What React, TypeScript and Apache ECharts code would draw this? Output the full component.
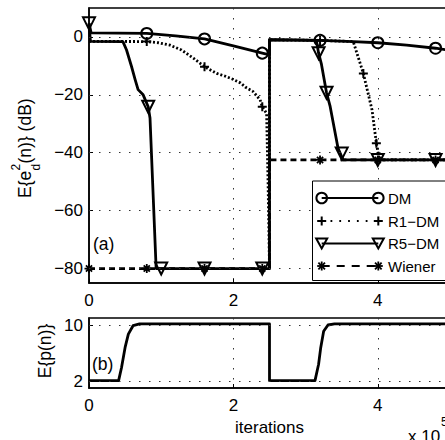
import React, { useEffect, useRef } from "react";
import * as echarts from "echarts";

// x values in units of 1e5 iterations
const dmX = [0, 0.03, 0.4, 0.8, 1.2, 1.6, 2.0, 2.4, 2.5, 2.5, 2.8, 3.2, 3.66, 4.0, 4.4, 4.8, 5.0];
const dmY = [4.7, 1.4, 1.3, 1.2, 0.4, -0.7, -3.1, -5.6, -6.2, -0.9, -1.0, -1.2, -1.6, -2.0, -2.8, -3.9, -4.6];
const dmMarkX = [0.8, 1.6, 2.4, 3.2, 4.0, 4.8];
const dmMarkY = [1.2, -0.7, -5.6, -1.2, -2.0, -3.9];

const r1X = [0, 0.8, 0.96, 1.12, 1.28, 1.45, 1.6, 1.77, 1.88, 2.0, 2.1, 2.17, 2.27, 2.37, 2.4, 2.46, 2.48, 2.5, 2.5, 3.2, 3.66, 3.8, 3.92, 3.98, 4.02, 5.0];
const r1Y = [-1.5, -1.6, -2.0, -2.8, -4.5, -7.4, -10.3, -12.6, -13.5, -14.7, -15.9, -17.4, -18.8, -21.7, -24.1, -26.4, -50, -80, -1.0, -1.2, -1.6, -12.6, -25.2, -36.7, -42.5, -42.5];
const r1MarkX = [0.8, 1.6, 2.4, 3.2, 3.8, 3.98];
const r1MarkY = [-1.6, -10.3, -24.1, -1.2, -12.6, -36.7];

const r5X = [0, 0.02, 0.47, 0.52, 0.59, 0.64, 0.68, 0.75, 0.82, 0.845, 0.93, 2.5, 2.5, 3.15, 3.18, 3.22, 3.29, 3.34, 3.45, 3.52, 5.0];
const r5Y = [4.7, -1.5, -1.6, -4.5, -10.3, -14.8, -18.2, -20.0, -24.1, -28, -80, -80, -1.0, -1.2, -5.6, -9.5, -19.3, -24, -38.5, -42.5, -42.5];
const r5MarkX = [0, 0.82, 1.0, 1.6, 2.4, 3.18, 3.29, 3.5, 4.0, 4.8];
const r5MarkY = [4.7, -24.1, -80, -80, -80, -5.6, -19.3, -40.3, -42.5, -42.5];

const wienerX = [0, 2.5, 2.5, 5.0];
const wienerY = [-80, -80, -42.5, -42.5];
const wienerMarkX = [0, 0.8, 1.6, 2.4, 3.2, 4.0, 4.8];
const wienerMarkY = [-80, -80, -80, -80, -42.5, -42.5, -42.5];

const pX = [0, 0.41, 0.45, 0.5, 0.545, 0.61, 0.7, 2.5, 2.5, 3.13, 3.18, 3.21, 3.25, 3.31, 3.4, 5.0];
const pY = [2.05, 2.05, 3.9, 6.8, 8.7, 9.9, 10.15, 10.15, 2.05, 2.05, 4.4, 6.8, 9.1, 10.0, 10.15, 10.15];

const yTicksA = [-80, -60, -40, -20, 0];
const yTicksB = [2, 10];
const legendNames = ["DM", "R1\u2212DM", "R5\u2212DM", "Wiener"];

const FONT = "'Liberation Sans', Arial, Helvetica, sans-serif";
const PLUS = "path://M0,5L10,5M5,0L5,10";
const STAR = "path://M0,5L10,5M5,0L5,10M1.6,1.6L8.4,8.4M1.6,8.4L8.4,1.6";

const zip = (xs: number[], ys: number[]) => xs.map((x, i) => [x, ys[i]]);
const fmt = (v: number) => (v < 0 ? "\u2212" + Math.abs(v) : String(v));

const gridLine = { type: [1.5, 8.5] as any, color: "#333", width: 1 };

function lineSeries(name: string, xs: number[], ys: number[], type: any, idx: number, extra: any = {}) {
  return {
    type: "line",
    name,
    xAxisIndex: idx,
    yAxisIndex: idx,
    data: zip(xs, ys),
    showSymbol: false,
    symbol: "none",
    silent: true,
    lineStyle: { color: "#000", width: 2.8, type, cap: "butt", join: "round" },
    z: 2,
    ...extra,
  };
}

function markSeries(xs: number[], ys: number[], symbol: string, size: number, rotate = 0, bw = 2) {
  return {
    type: "scatter",
    xAxisIndex: 0,
    yAxisIndex: 0,
    data: zip(xs, ys),
    symbol,
    symbolSize: size,
    symbolRotate: rotate,
    silent: true,
    itemStyle: { color: "rgba(0,0,0,0)", borderColor: "#000", borderWidth: bw, opacity: 1 },
    z: 3,
  };
}

function hMarkLines(vals: number[]) {
  return {
    silent: true,
    symbol: ["none", "none"],
    label: { show: false },
    lineStyle: gridLine,
    data: vals.map((v) => ({ yAxis: v })),
    animation: false,
  };
}

function legendGraphics() {
  const rowsY = [198, 221, 243.5, 266];
  const mL = 321.7;
  const mR = 378.3;
  const els: any[] = [
    {
      type: "rect",
      shape: { x: 312.5, y: 181, width: 140, height: 99.5 },
      style: { fill: "#fff", stroke: "#000", lineWidth: 1 },
      z: 100,
    },
  ];
  const dashes: any[] = [null, [1.8, 7], null, [8, 7]];
  rowsY.forEach((ry, i) => {
    els.push({
      type: "line",
      shape: { x1: mL, y1: ry, x2: mR, y2: ry },
      style: { stroke: "#000", lineWidth: 1.8, lineDash: dashes[i] },
      z: 101,
    });
    [mL, mR].forEach((cx) => {
      if (i === 0) {
        els.push({ type: "circle", shape: { cx, cy: ry, r: 5.3 }, style: { fill: "none", stroke: "#000", lineWidth: 2 }, z: 102 });
      } else if (i === 1) {
        els.push({ type: "line", shape: { x1: cx - 4.5, y1: ry, x2: cx + 4.5, y2: ry }, style: { stroke: "#000", lineWidth: 2 }, z: 102 });
        els.push({ type: "line", shape: { x1: cx, y1: ry - 4.5, x2: cx, y2: ry + 4.5 }, style: { stroke: "#000", lineWidth: 2 }, z: 102 });
      } else if (i === 2) {
        els.push({
          type: "polygon",
          shape: { points: [[cx - 5.5, ry - 5], [cx + 5.5, ry - 5], [cx, ry + 5]] },
          style: { fill: "none", stroke: "#000", lineWidth: 2 },
          z: 102,
        });
      } else {
        const r = 4.5;
        const d = 3.3;
        [[-r, 0, r, 0], [0, -r, 0, r], [-d, -d, d, d], [-d, d, d, -d]].forEach((s) =>
          els.push({ type: "line", shape: { x1: cx + s[0], y1: ry + s[1], x2: cx + s[2], y2: ry + s[3] }, style: { stroke: "#000", lineWidth: 1.8 }, z: 102 })
        );
      }
    });
    els.push({
      type: "text",
      x: 388,
      y: ry,
      style: { text: legendNames[i], fontSize: 15, fontFamily: FONT, fill: "#000", align: "left", verticalAlign: "middle", textAlign: "left", textVerticalAlign: "middle" },
      z: 103,
    });
  });
  return els;
}

function txt(text: string, x: number, y: number, size: number, align = "left", extra: any = {}) {
  return {
    type: "text",
    x,
    y,
    style: { text, fontSize: size, fontFamily: FONT, fill: "#000", align, verticalAlign: "middle", textAlign: align, textVerticalAlign: "middle" },
    z: 110,
    ...extra,
  };
}

export default function App() {
  const ref = useRef<HTMLDivElement>(null);
  useEffect(() => {
    if (!ref.current) return;
    const chart = echarts.init(ref.current, null, { renderer: "svg" });
    const axisLineStyle = { color: "#000", width: 1.5 };
    const xAxisCommon = (gi: number, extra: any = {}) => ({
      gridIndex: gi,
      type: "value",
      min: 0,
      max: 5,
      interval: 2,
      axisLine: { show: true, onZero: false, lineStyle: axisLineStyle },
      axisTick: { show: true, inside: true, length: 4, lineStyle: { color: "#000", width: 1 } },
      axisLabel: { margin: 9, fontSize: 17, color: "#000", fontFamily: FONT, formatter: fmt },
      splitLine: { show: true, lineStyle: gridLine },
      ...extra,
    });
    const yAxisCommon = (gi: number, min: number, max: number, ticks: number[]) => ({
      gridIndex: gi,
      type: "value",
      min,
      max,
      axisLine: { show: true, onZero: false, lineStyle: axisLineStyle },
      axisTick: { show: true, inside: true, length: 4, customValues: ticks, lineStyle: { color: "#000", width: 1 } },
      axisLabel: { margin: 6, fontSize: 17, color: "#000", fontFamily: FONT, customValues: ticks, formatter: fmt },
      splitLine: { show: false },
    });
    chart.setOption({
      animation: false,
      backgroundColor: "#fff",
      grid: [
        { left: 89, top: 8, width: 361, height: 275, show: true, borderColor: "#000", borderWidth: 1.5, backgroundColor: "transparent", containLabel: false, outerBoundsMode: "none" },
        { left: 89, top: 318, width: 361, height: 70, show: true, borderColor: "#000", borderWidth: 1.5, backgroundColor: "transparent", containLabel: false, outerBoundsMode: "none" },
      ],
      xAxis: [
        xAxisCommon(0),
        xAxisCommon(1, {
          name: "iterations",
          nameLocation: "middle",
          nameGap: 31,
          nameTextStyle: { fontSize: 17, color: "#000", fontFamily: FONT },
        }),
      ],
      yAxis: [yAxisCommon(0, -85, 10, yTicksA), yAxisCommon(1, 1, 11, yTicksB)],
      series: [
        lineSeries("Wiener", wienerX, wienerY, [6, 4], 0, { markLine: hMarkLines(yTicksA) }),
        lineSeries("DM", dmX, dmY, "solid", 0),
        lineSeries("R1-DM", r1X, r1Y, [2, 2], 0),
        lineSeries("R5-DM", r5X, r5Y, "solid", 0),
        markSeries(wienerMarkX, wienerMarkY, STAR, 9, 0, 1.8),
        markSeries(dmMarkX, dmMarkY, "circle", 11),
        markSeries(r1MarkX, r1MarkY, PLUS, 9),
        markSeries(r5MarkX, r5MarkY, "triangle", 12, 180),
        lineSeries("p", pX, pY, "solid", 1, { markLine: hMarkLines(yTicksB) }),
      ],
      graphic: [
        ...legendGraphics(),
        txt("(a)", 93, 244, 17.5),
        txt("(b)", 92, 364, 17.5),
        {
          type: "group",
          x: 25,
          y: 198,
          rotation: Math.PI / 2,
          z: 110,
          children: [
            txt("E{e", 0, 0, 17.5),
            txt("2", 27.5, -9.5, 12),
            txt("d", 27.5, 10.5, 12),
            txt("(n)} (dB)", 34.5, 0, 17.5),
          ],
        },
        {
          type: "group",
          x: 45,
          y: 351,
          rotation: Math.PI / 2,
          z: 110,
          children: [txt("E{p(n)}", 0, 0, 17.5, "center")],
        },
        txt("x 10", 408, 436, 17),
        txt("5", 441, 422, 12),
      ],
    });
    return () => chart.dispose();
  }, []);
  return (
    <div
      ref={ref}
      style={{ position: "absolute", left: 0, top: 0, width: 445, height: 440, overflow: "hidden", background: "#fff" }}
    />
  );
}
